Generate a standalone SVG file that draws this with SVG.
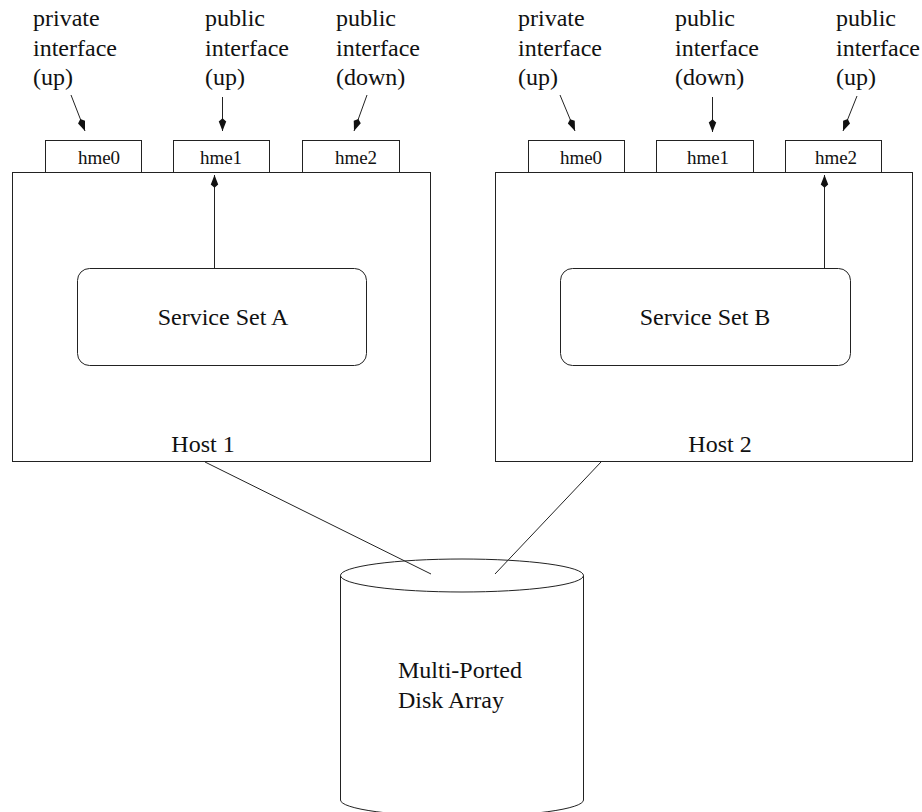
<svg xmlns="http://www.w3.org/2000/svg" width="922" height="812" viewBox="0 0 922 812">
  <style>
    .box { fill: none; stroke: #222; stroke-width: 1; }
    .wire { fill: none; stroke: #222; stroke-width: 1; }
    .lbl { font-family: 'Liberation Serif', 'Times New Roman', serif; font-size: 24px; fill: #111; }
    .nic { font-family: 'Liberation Serif', 'Times New Roman', serif; font-size: 19px; fill: #111; text-anchor: middle; }
    .mid { text-anchor: middle; }
  </style>
  <defs>
    <marker id="head" markerUnits="userSpaceOnUse" markerWidth="16" markerHeight="10" viewBox="-14 -4.5 15 9" refX="0" refY="0" orient="auto">
      <path d="M0,0 L-9,-3.5 L-12,0 L-9,3.5 Z" fill="#111"/>
    </marker>
  </defs>
  <rect width="922" height="812" fill="#fff"/>

  <!-- Host 1 -->
  <g id="host1">
    <rect class="box" x="12.5" y="172.5" width="418" height="289"/>
    <text class="lbl mid" x="203" y="452">Host 1</text>
  </g>
  <g id="host1-hme0">
    <rect class="box" x="45.5" y="140.5" width="96" height="32"/>
    <text class="nic" x="99" y="164">hme0</text>
  </g>
  <g id="host1-hme1">
    <rect class="box" x="173.5" y="140.5" width="96" height="32"/>
    <text class="nic" x="221" y="164">hme1</text>
  </g>
  <g id="host1-hme2">
    <rect class="box" x="302.5" y="140.5" width="97" height="32"/>
    <text class="nic" x="356" y="164">hme2</text>
  </g>
  <g id="service-a">
    <rect class="box" x="77.5" y="268.5" width="289" height="97" rx="12" ry="12"/>
    <text class="lbl mid" x="223" y="325">Service Set A</text>
  </g>

  <!-- Host 2 -->
  <g id="host2">
    <rect class="box" x="495.5" y="172.5" width="417" height="289"/>
    <text class="lbl mid" x="720" y="452">Host 2</text>
  </g>
  <g id="host2-hme0">
    <rect class="box" x="528.5" y="140.5" width="96" height="32"/>
    <text class="nic" x="581" y="164">hme0</text>
  </g>
  <g id="host2-hme1">
    <rect class="box" x="656.5" y="140.5" width="97" height="32"/>
    <text class="nic" x="708" y="164">hme1</text>
  </g>
  <g id="host2-hme2">
    <rect class="box" x="785.5" y="140.5" width="96" height="32"/>
    <text class="nic" x="836" y="164">hme2</text>
  </g>
  <g id="service-b">
    <rect class="box" x="560.5" y="268.5" width="290" height="97" rx="12" ry="12"/>
    <text class="lbl mid" x="705" y="325">Service Set B</text>
  </g>

  <!-- Interface state labels -->
  <g id="label-h1-hme0">
    <text class="lbl" x="33" y="26">private</text>
    <text class="lbl" x="33" y="56">interface</text>
    <text class="lbl" x="33" y="85">(up)</text>
  </g>
  <g id="label-h1-hme1">
    <text class="lbl" x="205" y="26">public</text>
    <text class="lbl" x="205" y="56">interface</text>
    <text class="lbl" x="205" y="85">(up)</text>
  </g>
  <g id="label-h1-hme2">
    <text class="lbl" x="336" y="26">public</text>
    <text class="lbl" x="336" y="56">interface</text>
    <text class="lbl" x="336" y="85">(down)</text>
  </g>
  <g id="label-h2-hme0">
    <text class="lbl" x="518" y="26">private</text>
    <text class="lbl" x="518" y="56">interface</text>
    <text class="lbl" x="518" y="85">(up)</text>
  </g>
  <g id="label-h2-hme1">
    <text class="lbl" x="675" y="26">public</text>
    <text class="lbl" x="675" y="56">interface</text>
    <text class="lbl" x="675" y="85">(down)</text>
  </g>
  <g id="label-h2-hme2">
    <text class="lbl" x="836" y="26">public</text>
    <text class="lbl" x="836" y="56">interface</text>
    <text class="lbl" x="836" y="85">(up)</text>
  </g>

  <!-- Multi-ported disk array -->
  <g id="disk">
    <path class="box" d="M340.5,575.5 L340.5,800 A121.5,16.5 0 0 0 583.5,800 L583.5,575.5"/>
    <ellipse class="box" cx="462" cy="575.5" rx="121.5" ry="16.5"/>
    <text class="lbl" x="398" y="678">Multi-Ported</text>
    <text class="lbl" x="398" y="708">Disk Array</text>
  </g>

  <!-- Connectors -->
  <g id="connectors">
    <line class="wire" x1="71" y1="95" x2="85" y2="131" marker-end="url(#head)"/>
    <line class="wire" x1="222.5" y1="97" x2="222.5" y2="131" marker-end="url(#head)"/>
    <line class="wire" x1="367" y1="95" x2="354" y2="131" marker-end="url(#head)"/>
    <line class="wire" x1="560" y1="95" x2="575" y2="131" marker-end="url(#head)"/>
    <line class="wire" x1="712.5" y1="97" x2="712.5" y2="132" marker-end="url(#head)"/>
    <line class="wire" x1="857" y1="96" x2="843" y2="131" marker-end="url(#head)"/>
    <line class="wire" x1="214.5" y1="268" x2="214.5" y2="175" marker-end="url(#head)"/>
    <line class="wire" x1="824.5" y1="268" x2="824.5" y2="175" marker-end="url(#head)"/>
    <line class="wire" x1="205" y1="462" x2="431" y2="574"/>
    <line class="wire" x1="601" y1="462" x2="495" y2="574"/>
  </g>
</svg>
